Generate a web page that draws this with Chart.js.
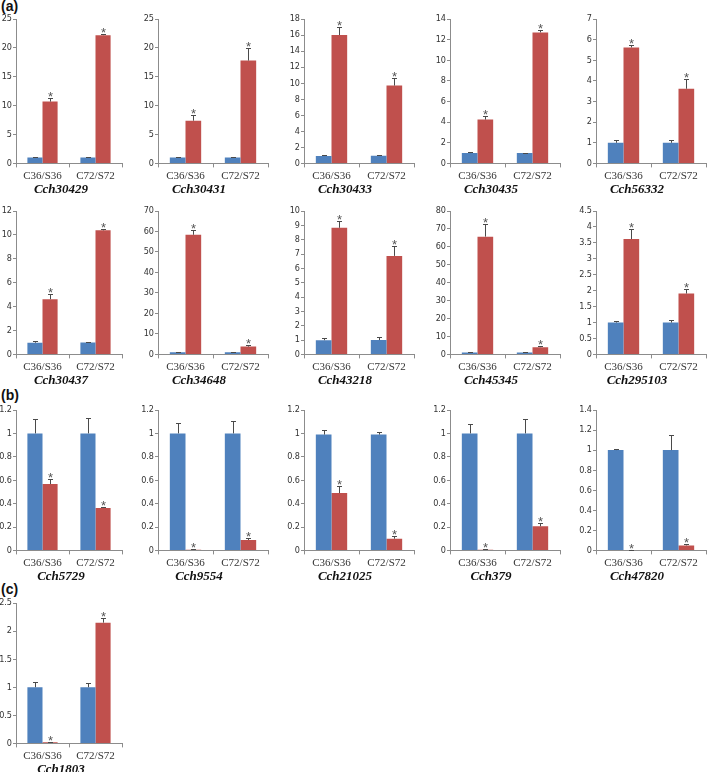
<!DOCTYPE html>
<html lang="en">
<head>
<meta charset="UTF-8">
<title>Relative expression of Cch genes</title>
<script src="https://cdn.jsdelivr.net/npm/chart.js@4"></script>
<style>
  body { margin: 0; background: #fff; }
  #fig { position: relative; width: 709px; height: 772px; overflow: hidden; }
  #fig canvas { position: absolute; }
  .tag { position: absolute; left: 1px; font: bold 14px "Liberation Sans", Arial, sans-serif; color: #111; }
</style>
</head>
<body>
<div id="fig">
  <div class="tag" style="top:-2px">(a)</div>
  <div class="tag" style="top:387px">(b)</div>
  <div class="tag" style="top:581px">(c)</div>
</div>

<script>
// ---- data ----
const categories = ['C36/S36', 'C72/S72'];
const titles = ['Cch30429', 'Cch30431', 'Cch30433', 'Cch30435', 'Cch56332',
                'Cch30437', 'Cch34648', 'Cch43218', 'Cch45345', 'Cch295103',
                'Cch5729', 'Cch9554', 'Cch21025', 'Cch379', 'Cch47820',
                'Cch1803'];
const blueVals = [[1, 1], [1, 1], [0.92, 0.95], [1, 1], [1, 1],
                  [0.98, 1], [1, 1], [0.99, 1], [1, 1], [1, 1],
                  [1, 1], [1, 1], [0.99, 0.99], [1, 1], [1, 1],
                  [1, 1]];
const blueErr  = [[0.1, 0.1], [0.12, 0.12], [0.1, 0.1], [0.06, 0.05], [0.14, 0.13],
                  [0.12, 0.04], [0.3, 0.3], [0.14, 0.22], [0.3, 0.3], [0.05, 0.07],
                  [0.12, 0.13], [0.09, 0.11], [0.04, 0.02], [0.08, 0.12], [0.012, 0.155],
                  [0.09, 0.07]];
const redVals  = [[10.7, 22.2], [7.4, 17.8], [16.0, 9.7], [4.25, 12.7], [5.62, 3.62],
                  [4.62, 10.38], [58.4, 3.8], [8.83, 6.87], [65.7, 4.0], [3.62, 1.91],
                  [0.567, 0.362], [0.005, 0.089], [0.49, 0.10], [0.005, 0.206], [0.005, 0.05],
                  [0.02, 2.15]];
const redErr   = [[0.55, 0.15], [0.9, 2.1], [1.05, 0.95], [0.3, 0.2], [0.1, 0.48],
                  [0.4, 0.1], [2.3, 0.6], [0.5, 0.7], [7.0, 0.7], [0.32, 0.15],
                  [0.045, 0.012], [0.003, 0.015], [0.064, 0.025], [0.003, 0.028], [0.002, 0.012],
                  [0.005, 0.09]];
const yMax  = [25, 25, 18, 14, 7, 12, 70, 10, 80, 4.5, 1.2, 1.2, 1.2, 1.2, 1.4, 2.5];
const yStep = [5, 5, 2, 2, 1, 2, 10, 1, 10, 0.5, 0.2, 0.2, 0.2, 0.2, 0.2, 0.5];

// ---- layout (pixels) ----
const axisX = [16, 158, 304, 450, 596];
const plotW = [106, 110, 110, 110, 110];
const rowTop = [19, 211, 410, 603];
const rowBottom = [162, 353, 549, 742];
const Y_AXIS_W = 28, PAD_TOP = 8, X_AXIS_H = 17, TITLE_H = 18;

const BLUE = '#4F81BD', RED = '#C0504D', AXIS = '#8c8c8c', TXT = '#333';
const TICK_FONT = '"Liberation Sans Narrow", "DejaVu Sans Condensed", "Liberation Sans", Arial, sans-serif';

// error bars and significance stars, positioned with the chart's own y scale
const errorBars = {
  id: 'errorBars',
  afterDatasetsDraw(chart) {
    const { ctx } = chart;
    const y = chart.scales.y;
    ctx.save();
    ctx.strokeStyle = '#4a4a4a';
    ctx.lineWidth = 1;
    chart.data.datasets.forEach((ds, di) => {
      chart.getDatasetMeta(di).data.forEach((bar, k) => {
        const v = ds.data[k], e = ds.errors[k];
        const yv = y.getPixelForValue(v), ye = Math.round(y.getPixelForValue(v + e)) + 0.5;
        const x = Math.round(bar.x) + 0.5;
        ctx.beginPath();
        ctx.moveTo(x, yv);
        ctx.lineTo(x, ye);
        ctx.moveTo(x - 2.5, ye);
        ctx.lineTo(x + 2.5, ye);
        ctx.stroke();
        if (ds.stars) {
          ctx.fillStyle = '#555';
          ctx.font = '13px "Liberation Sans", Arial, sans-serif';
          ctx.textAlign = 'center';
          ctx.textBaseline = 'alphabetic';
          ctx.fillText('*', x, ye + 2);
        }
      });
    });
    ctx.restore();
  }
};

const fig = document.getElementById('fig');

titles.forEach((title, i) => {
  const row = i < 5 ? 0 : i < 10 ? 1 : i < 15 ? 2 : 3;
  const col = i < 15 ? i % 5 : 0;
  const plotH = rowBottom[row] - rowTop[row];
  const left = Math.max(0, axisX[col] - Y_AXIS_W);
  const yw = axisX[col] - left;
  const w = yw + plotW[col] + 2;
  const h = PAD_TOP + plotH + X_AXIS_H + TITLE_H;

  const canvas = document.createElement('canvas');
  canvas.width = w;
  canvas.height = h;
  canvas.style.left = left + 'px';
  canvas.style.top = (rowTop[row] - PAD_TOP) + 'px';
  fig.appendChild(canvas);

  new Chart(canvas, {
    type: 'bar',
    data: {
      labels: categories,
      datasets: [
        { data: blueVals[i], errors: blueErr[i], backgroundColor: BLUE,
          categoryPercentage: 0.57, barPercentage: 1.0 },
        { data: redVals[i], errors: redErr[i], stars: true, backgroundColor: RED,
          categoryPercentage: 0.57, barPercentage: 1.0 }
      ]
    },
    options: {
      responsive: false,
      animation: false,
      layout: { padding: { top: PAD_TOP, right: 2, left: 0, bottom: 0 } },
      plugins: {
        legend: { display: false },
        tooltip: { enabled: false },
        title: {
          display: true,
          text: title,
          position: 'bottom',
          color: '#111',
          font: { family: '"Liberation Serif", "Times New Roman", serif', size: 13, weight: 'bold', style: 'italic' },
          padding: { top: 1, bottom: 0 }
        }
      },
      scales: {
        x: {
          afterFit(scale) { scale.height = X_AXIS_H; },
          grid: { display: true, drawOnChartArea: false, drawTicks: true, tickLength: 4, color: AXIS, offset: true },
          border: { display: true, color: AXIS },
          ticks: { color: TXT, padding: 2, maxRotation: 0,
                   font: { family: '"Liberation Serif", "Times New Roman", serif', size: 11 } }
        },
        y: {
          min: 0,
          max: yMax[i],
          afterFit(scale) { scale.width = yw; },
          grid: { display: true, drawOnChartArea: false, drawTicks: true, tickLength: 3, color: AXIS },
          border: { display: true, color: AXIS },
          ticks: { stepSize: yStep[i], color: TXT, padding: 1,
                   callback: v => String(+v.toFixed(2)),
                   font: { family: TICK_FONT, size: 9 } }
        }
      }
    },
    plugins: [errorBars]
  });
});
</script>
</body>
</html>
